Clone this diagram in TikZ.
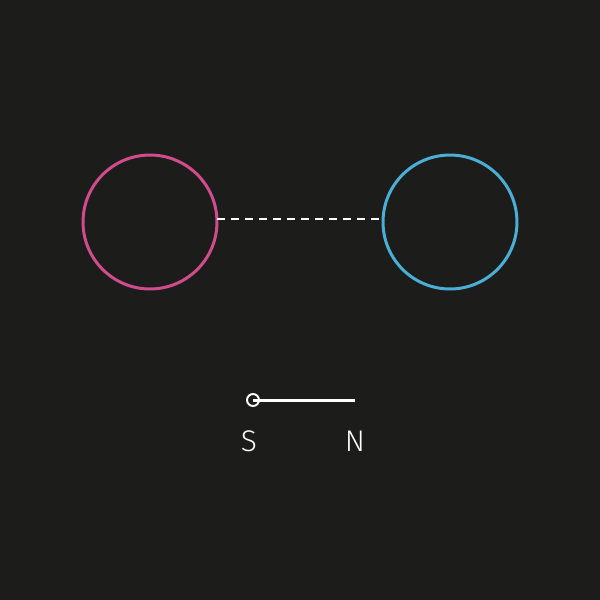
\documentclass[tikz,border=0pt]{standalone}
\usepackage{fontspec}
\setsansfont{Fira Sans Light}
\definecolor{bg}{HTML}{1C1D1A}
\definecolor{pole}{HTML}{D04C8C}
\definecolor{eq}{HTML}{4BAED6}
\tikzset{ring/.style={line width=1.7pt,circle,minimum size=2.68cm,inner sep=0pt}}
\begin{document}
\begin{tikzpicture}[x=0.02cm,y=-0.02cm]
  \fill[bg] (0,0) rectangle (600,600);
  \node[ring,draw=pole] (left) at (150,222) {};
  \node[ring,draw=eq] (right) at (450,222) {};
    \coordinate (gapl) at (217,219);
    \coordinate (gapr) at (383,219);
  \draw[white,line width=1.5pt,dash pattern=on 0.16cm off 0.12cm] (gapl) -- (gapr);
    \node[circle,draw=white,line width=1.1pt,minimum size=0.24cm,inner sep=0pt] (south) at (253,400) {};
    \coordinate (north) at (355,400);
  \draw[white,line width=1.7pt] (south.center) -- (north);
    \node[white,font=\sffamily\fontsize{17}{20}\selectfont] (slabel) at (249,441) {S};
    \node[white,font=\sffamily\fontsize{17}{20}\selectfont] (nlabel) at (355,441) {N};
\end{tikzpicture}
\end{document}
